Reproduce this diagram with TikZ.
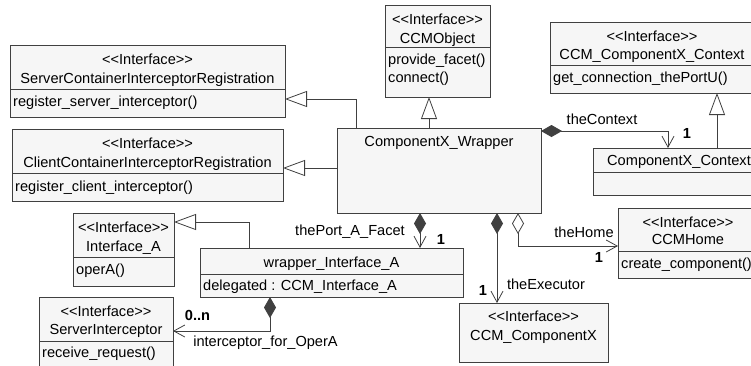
\documentclass[tikz,border=0pt]{standalone}
\usepackage{fontspec}
\setmainfont{Liberation Sans}[Ligatures=ResetAll]
\usetikzlibrary{arrows.meta}
\definecolor{lc}{RGB}{64,64,64}
\definecolor{bf}{RGB}{246,246,246}
\newcommand{\dgfont}{\fontsize{14.6pt}{18pt}\selectfont}
\newcommand{\ifc}{<{}<Interface>{}>}
\begin{document}
\begin{tikzpicture}[x=1pt,y=-1pt,
  ln/.style={draw=lc,line width=0.8pt},
  cbox/.style={draw=lc,fill=bf,line width=0.8pt,anchor=north west,inner sep=0pt,outer sep=0pt},
  ct/.style={inner sep=0pt,text height=10.5pt,text depth=2.5pt,font=\dgfont},
  lt/.style={ct,anchor=west},
  mult/.style={ct,font=\dgfont\bfseries},
  gen/.style={ln,-{Triangle[open,length=22pt,width=16pt]}},
  comp/.style={ln,{Diamond[length=21pt,width=12pt]}-{Straight Barb[length=11pt,width=12pt]}},
  agg/.style={ln,{Diamond[open,length=21pt,width=12pt]}-{Straight Barb[length=11pt,width=12pt]}},
]
\useasboundingbox (0,0) rectangle (751,365);
\clip (0,0) rectangle (751,365);

% ServerContainerInterceptorRegistration
\node[cbox,minimum width=275,minimum height=72] (srv) at (10,45) {};
\draw[ln] (10,89) -- (285,89);
\node[ct] (srv1) at (147.5,60) {\ifc};
\node[ct] (srv2) at (147.5,79) {ServerContainerInterceptorRegistration};
\node[lt] (srv3) at (13,102) {register\_server\_interceptor()};

% ClientContainerInterceptorRegistration
\node[cbox,minimum width=271,minimum height=72] (cli) at (12,129) {};
\draw[ln] (12,173) -- (283,173);
\node[ct] (cli1) at (147.5,144) {\ifc};
\node[ct] (cli2) at (147.5,163) {ClientContainerInterceptorRegistration};
\node[lt] (cli3) at (15,187) {register\_client\_interceptor()};

% CCMObject
\node[cbox,minimum width=105,minimum height=92] (obj) at (385,5) {};
\draw[ln] (385,47) -- (490,47);
\node[ct] (obj1) at (437.5,20) {\ifc};
\node[ct] (obj2) at (437.5,39) {CCMObject};
\node[lt] (obj3) at (388,60) {provide\_facet()};
\node[lt] (obj4) at (388,78) {connect()};

% CCM_ComponentX_Context
\node[cbox,minimum width=205,minimum height=71] (ccxc) at (550,22) {};
\draw[ln] (550,65) -- (755,65);
\node[ct] (ccxc1) at (652,37) {\ifc};
\node[ct] (ccxc2) at (652,55) {CCM\_ComponentX\_Context};
\node[lt] (ccxc3) at (553,78) {get\_connection\_thePortU()};

% ComponentX_Context
\node[cbox,minimum width=172,minimum height=47] (cxc) at (593,148) {};
\draw[ln] (593,172) -- (765,172);
\node[ct] (cxc1) at (679,161) {ComponentX\_Context};

% ComponentX_Wrapper
\node[cbox,minimum width=204,minimum height=85] (wrap) at (337,128) {};
\node[ct] (wrap1) at (439,142) {ComponentX\_Wrapper};

% Interface_A
\node[cbox,minimum width=101,minimum height=73] (ia) at (73,213) {};
\draw[ln] (73,257) -- (174,257);
\node[ct] (ia1) at (123.5,228) {\ifc};
\node[ct] (ia2) at (123.5,247) {Interface\_A};
\node[lt] (ia3) at (76,270) {operA()};

% wrapper_Interface_A
\node[cbox,minimum width=263,minimum height=49] (wia) at (200,248) {};
\draw[ln] (200,274) -- (463,274);
\node[ct] (wia1) at (331.5,263) {wrapper\_Interface\_A};
\node[lt] (wia2) at (203,286) {delegated : CCM\_Interface\_A};

% ServerInterceptor
\node[cbox,minimum width=134,minimum height=83] (si) at (39,297) {};
\draw[ln] (39,341) -- (173,341);
\node[ct] (si1) at (106,312) {\ifc};
\node[ct] (si2) at (106,330) {ServerInterceptor};
\node[lt] (si3) at (42,353) {receive\_request()};

% CCMHome
\node[cbox,minimum width=140,minimum height=70] (home) at (618,208) {};
\draw[ln] (618,251) -- (758,251);
\node[ct] (home1) at (688,223) {\ifc};
\node[ct] (home2) at (688,240) {CCMHome};
\node[lt] (home3) at (621,264) {create\_component()};

% CCM_ComponentX
\node[cbox,minimum width=149,minimum height=59] (ccx) at (459,303) {};
\node[ct] (ccx1) at (533.5,317) {\ifc};
\node[ct] (ccx2) at (533.5,336) {CCM\_ComponentX};

% generalizations
\draw[gen] (429,0 |- wrap.north) -- (429,0 |- obj.south);
\draw[gen] (356,0 |- wrap.north) |- (srv.east |- 0,99);
\draw[gen] (wrap.west |- 0,168) -- (cli.east |- 0,168);
\draw[gen] (249,0 |- wia.north) |- (ia.east |- 0,222);
\draw[gen] (717,0 |- cxc.north) -- (717,0 |- ccxc.south);

% associations
\draw[comp] (wrap.east |- 0,131) -| (668,0 |- cxc.north);
\draw[comp] (420,0 |- wrap.south) -- (420,0 |- wia.north);
\draw[comp] (497,0 |- wrap.south) -- (497,0 |- ccx.north);
\draw[agg] (518,0 |- wrap.south) |- (home.west |- 0,246);
\draw[comp] (270,0 |- wia.south) |- (si.east |- 0,331);

% labels
\node[ct] (l1) at (602,120) {theContext};
\node[mult] (m1) at (687,134) {1};
\node[ct] (l2) at (350,231) {thePort\_A\_Facet};
\node[mult] (m2) at (441,240) {1};
\node[ct] (l3) at (546,285) {theExecutor};
\node[mult] (m3) at (483,291) {1};
\node[ct] (l4) at (584,233) {theHome};
\node[mult] (m4) at (599,258) {1};
\node[mult] (m5) at (197.5,316) {0..n};
\node[ct] (l5) at (265.5,342) {interceptor\_for\_OperA};
\end{tikzpicture}
\end{document}
